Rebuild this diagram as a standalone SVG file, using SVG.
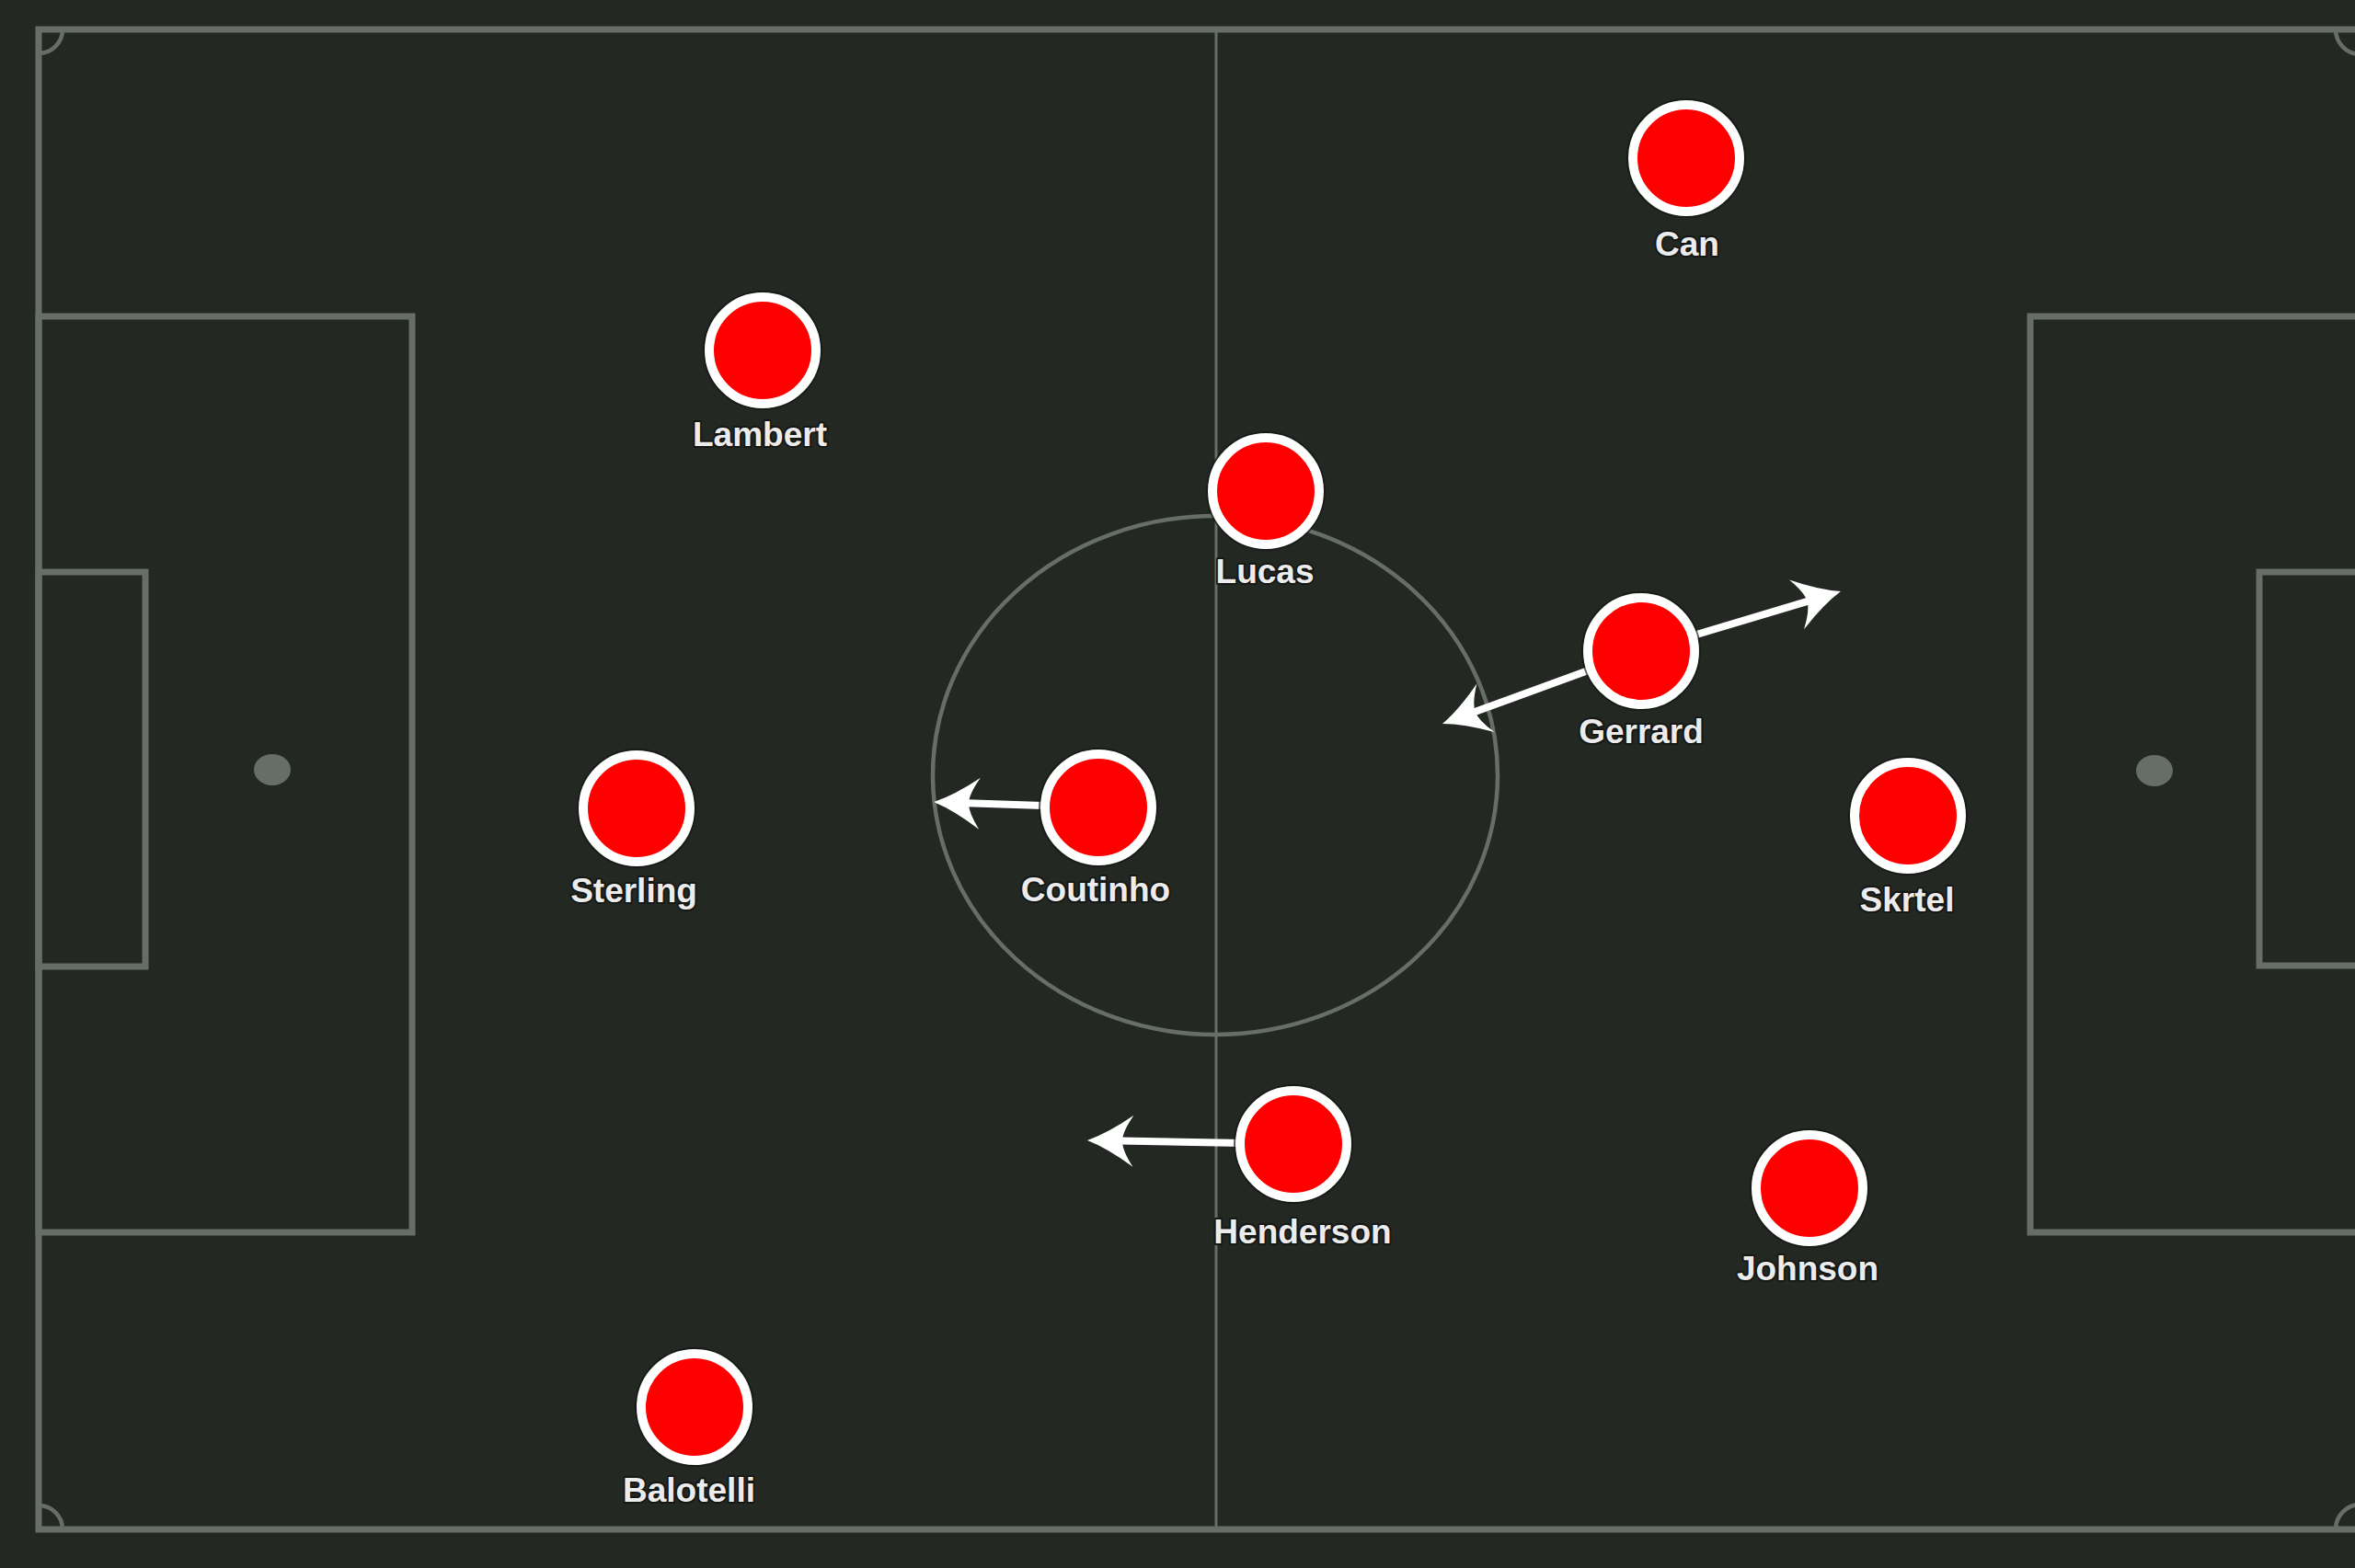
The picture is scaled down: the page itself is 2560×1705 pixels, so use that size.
<svg xmlns="http://www.w3.org/2000/svg" width="2560" height="1705" viewBox="0 0 2560 1705">
  <style>
    .pitch { fill: none; stroke: #676d67; stroke-width: 7; }
    .thin { fill: none; stroke: #676d67; stroke-width: 3; }
    .circ { fill: none; stroke: #676d67; stroke-width: 4.5; }
    .spot { fill: #676d67; }
    .halo { fill: #121512; opacity: 0.7; }
    .player { fill: #ff0000; stroke: #ffffff; stroke-width: 10; }
    .label { font-family: "Liberation Sans", Arial, sans-serif; font-size: 37px; font-weight: bold; fill: #ececec; text-anchor: middle; stroke: #141714; stroke-width: 4; paint-order: stroke; stroke-linejoin: round; }
    .run { fill: none; stroke: #ffffff; stroke-width: 8; marker-end: url(#head); }
  </style>
  <defs>
    <marker id="head" markerUnits="userSpaceOnUse" viewBox="0 -30 56 60" markerWidth="56" markerHeight="60" refX="16" refY="0" orient="auto">
      <path d="M52,0 Q30,-8 2,-28 Q14,-10 14,0 Q14,10 2,28 Q30,8 52,0 Z" fill="#ffffff"/>
    </marker>
  </defs>
  <rect x="0" y="0" width="2560" height="1705" fill="#242823"/>
  <g id="pitch">
    <rect class="pitch" x="42" y="32" width="2524" height="1631"/>
    <line class="thin" x1="1322" y1="32" x2="1322" y2="1663"/>
    <ellipse class="circ" cx="1321" cy="843" rx="307" ry="282"/>
    <rect class="pitch" x="42" y="344" width="406" height="996"/>
    <rect class="pitch" x="42" y="622" width="116" height="429"/>
    <rect class="pitch" x="2207" y="344" width="359" height="996"/>
    <rect class="pitch" x="2456" y="622" width="110" height="428"/>
    <ellipse class="spot" cx="296" cy="837" rx="20" ry="17"/>
    <ellipse class="spot" cx="2342" cy="838" rx="20" ry="17"/>
    <path class="circ" d="M68,32 A26,26 0 0 1 42,58"/>
    <path class="circ" d="M42,1637 A26,26 0 0 1 68,1663"/>
    <path class="circ" d="M2566,59 A27,27 0 0 1 2539,32"/>
    <path class="circ" d="M2539,1663 A27,27 0 0 1 2566,1636"/>
  </g>
  <g id="connectors">
    <line class="run" x1="1194" y1="878" x2="1051" y2="873.2"/>
    <line class="run" x1="1406" y1="1244" x2="1218" y2="1240.6"/>
    <line class="run" x1="1784" y1="708" x2="1966.5" y2="653.3"/>
    <line class="run" x1="1784" y1="708" x2="1601.8" y2="774.6"/>
  </g>
  <g id="can">
    <circle class="halo" cx="1833" cy="172" r="65"/>
    <circle class="player" cx="1833" cy="172" r="58"/>
    <text class="label" x="1834" y="278">Can</text>
  </g>
  <g id="lambert">
    <circle class="halo" cx="829" cy="381" r="65"/>
    <circle class="player" cx="829" cy="381" r="58"/>
    <text class="label" x="826" y="485">Lambert</text>
  </g>
  <g id="lucas">
    <circle class="halo" cx="1376" cy="534" r="65"/>
    <circle class="player" cx="1376" cy="534" r="58"/>
    <text class="label" x="1375" y="634">Lucas</text>
  </g>
  <g id="gerrard">
    <circle class="halo" cx="1784" cy="708" r="65"/>
    <circle class="player" cx="1784" cy="708" r="58"/>
    <text class="label" x="1784" y="808">Gerrard</text>
  </g>
  <g id="sterling">
    <circle class="halo" cx="692" cy="879" r="65"/>
    <circle class="player" cx="692" cy="879" r="58"/>
    <text class="label" x="689" y="981">Sterling</text>
  </g>
  <g id="coutinho">
    <circle class="halo" cx="1194" cy="878" r="65"/>
    <circle class="player" cx="1194" cy="878" r="58"/>
    <text class="label" x="1191" y="980">Coutinho</text>
  </g>
  <g id="skrtel">
    <circle class="halo" cx="2074" cy="887" r="65"/>
    <circle class="player" cx="2074" cy="887" r="58"/>
    <text class="label" x="2073" y="991">Skrtel</text>
  </g>
  <g id="henderson">
    <circle class="halo" cx="1406" cy="1244" r="65"/>
    <circle class="player" cx="1406" cy="1244" r="58"/>
    <text class="label" x="1416" y="1352">Henderson</text>
  </g>
  <g id="johnson">
    <circle class="halo" cx="1967" cy="1292" r="65"/>
    <circle class="player" cx="1967" cy="1292" r="58"/>
    <text class="label" x="1965" y="1392">Johnson</text>
  </g>
  <g id="balotelli">
    <circle class="halo" cx="755" cy="1530" r="65"/>
    <circle class="player" cx="755" cy="1530" r="58"/>
    <text class="label" x="749" y="1633">Balotelli</text>
  </g>
</svg>
